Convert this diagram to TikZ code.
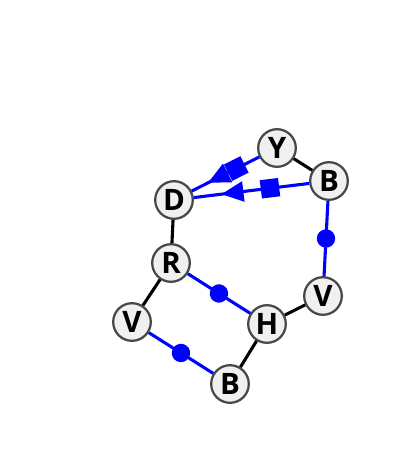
\documentclass[tikz,border=0pt]{standalone}
\usepackage{fontspec}
\setmainfont{Open Sans}
\usetikzlibrary{decorations.markings, arrows.meta}

\begin{document}
\begin{tikzpicture}[x=0.025cm, y=-0.025cm, line width=2.2pt,
    res/.style={circle, draw=black!72, fill=black!6, line width=1.6pt, minimum size=0.94cm, inner sep=0pt, font=\fontsize{21}{21}\selectfont\bfseries},
    bond/.style={black},
    dotbond/.style={blue, postaction={decorate}, decoration={markings, mark=at position 0.5 with {\fill[blue] (0,0) circle (0.23cm);}}},
    dirbond/.style={blue, postaction={decorate}, decoration={markings,
        mark=at position 0.34 with {\fill[blue] (-0.23cm,-0.23cm) rectangle (0.23cm,0.23cm);},
        mark=at position 0.76 with {\arrow{Triangle[length=0.55cm, width=0.5cm]}}}}]
  \useasboundingbox (0, 0) rectangle (400, 470);

  \node[res] at (277, 148) (y) {Y};
  \node[res] at (329, 181) (b1) {B};
  \node[res] at (174, 200) (d) {D};
  \node[res] at (171, 263) (r) {R};
  \node[res] at (323, 296) (v1) {V};
  \node[res] at (267, 324) (h) {H};
  \node[res] at (132, 322) (v2) {V};
  \node[res] at (230, 384) (b2) {B};

  \draw[bond] (y) -- (b1);
  \draw[bond] (d) -- (r);
  \draw[bond] (r) -- (v2);
  \draw[bond] (v1) -- (h);
  \draw[bond] (h) -- (b2);

  \draw[dotbond] (b1) -- (v1);
  \draw[dotbond] (r) -- (h);
  \draw[dotbond] (v2) -- (b2);

  \draw[dirbond] (y) -- (d);
  \draw[dirbond] (b1) -- (d);
\end{tikzpicture}
\end{document}
